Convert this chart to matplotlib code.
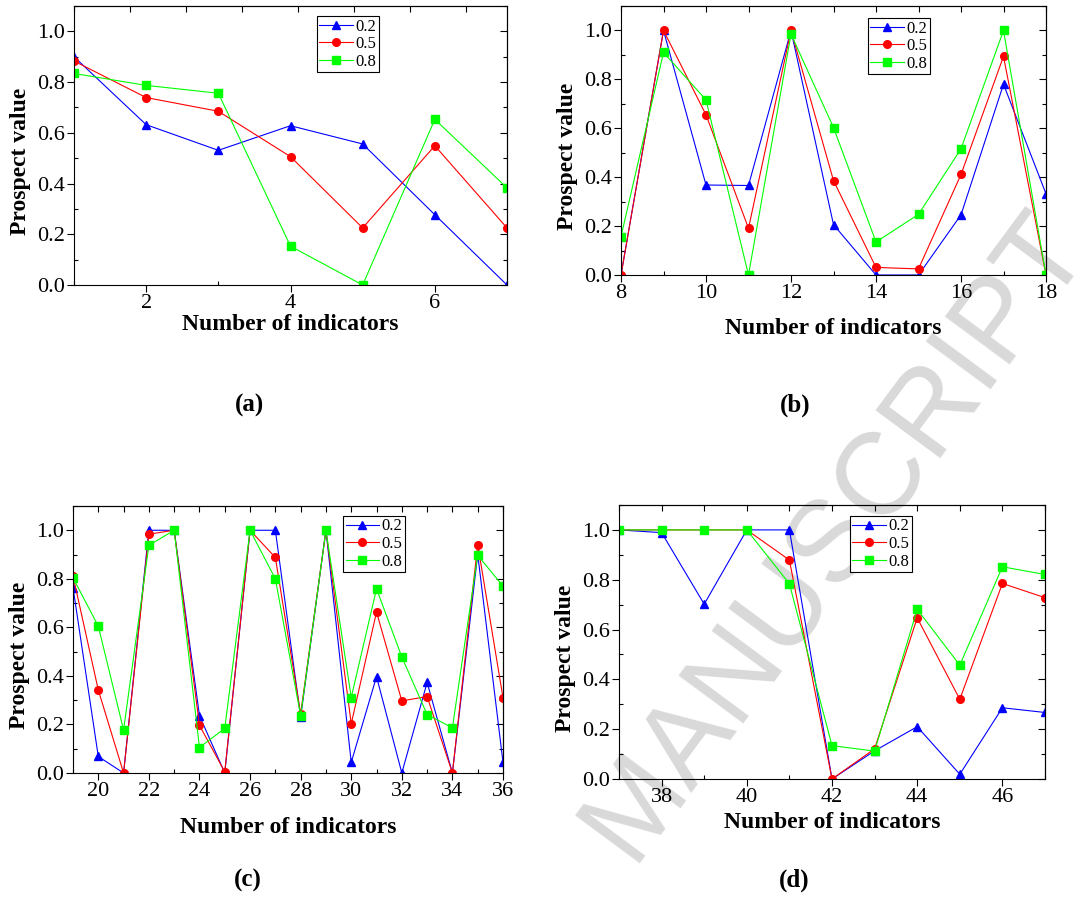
import numpy as np
import matplotlib
matplotlib.use("Agg")
import matplotlib.pyplot as plt
from matplotlib.ticker import MultipleLocator, FormatStrFormatter

plt.rcParams['font.family'] = ['Liberation Serif', 'DejaVu Serif']

series_labels = ["0.2", "0.5", "0.8"]

# (a)
x_a = [1, 2, 3, 4, 5, 6, 7]
a_02 = [0.90, 0.632, 0.531, 0.628, 0.556, 0.277, 0.0]
a_05 = [0.883, 0.739, 0.685, 0.506, 0.225, 0.549, 0.225]
a_08 = [0.834, 0.787, 0.756, 0.153, 0.0, 0.653, 0.383]

# (b)
x_b = [8, 9, 10, 11, 12, 13, 14, 15, 16, 17, 18]
b_02 = [0.0, 1.0, 0.368, 0.366, 1.0, 0.206, 0.0, 0.0, 0.246, 0.780, 0.332]
b_05 = [0.0, 1.0, 0.655, 0.191, 1.0, 0.386, 0.031, 0.025, 0.411, 0.894, 0.0]
b_08 = [0.157, 0.910, 0.716, 0.0, 0.985, 0.603, 0.135, 0.248, 0.516, 1.0, 0.0]

# (c)
x_c = [19, 20, 21, 22, 23, 24, 25, 26, 27, 28, 29, 30, 31, 32, 33, 34, 35, 36]
c_02 = [0.764, 0.068, 0.0, 1.0, 1.0, 0.236, 0.0, 1.0, 1.0, 0.230, 1.0, 0.044,
        0.397, 0.0, 0.373, 0.0, 0.901, 0.044]
c_05 = [0.812, 0.342, 0.0, 0.984, 1.0, 0.196, 0.005, 1.0, 0.888, 0.244, 1.0, 0.203,
        0.663, 0.297, 0.315, 0.0, 0.941, 0.310]
c_08 = [0.804, 0.605, 0.177, 0.938, 1.0, 0.105, 0.184, 1.0, 0.800, 0.236, 1.0, 0.311,
        0.759, 0.478, 0.241, 0.186, 0.897, 0.770]

# (d)
x_d = [37, 38, 39, 40, 41, 42, 43, 44, 45, 46, 47]
d_02 = [1.0, 0.989, 0.702, 1.0, 1.0, 0.0, 0.113, 0.210, 0.019, 0.286, 0.267]
d_05 = [1.0, 1.0, 1.0, 1.0, 0.879, 0.0, 0.121, 0.647, 0.320, 0.785, 0.728]
d_08 = [1.0, 1.0, 1.0, 1.0, 0.784, 0.134, 0.112, 0.681, 0.457, 0.852, 0.821]

colors = ["#0000ff", "#ff0000", "#00ff00"]
markers = ["^", "o", "s"]

W, H = 1088, 922
fig = plt.figure(figsize=(W / 100, H / 100), dpi=100)

# name, x, series, axes box in pixels (left, top, right, bottom), legend anchor,
# xlabel y (axes coords), top tick step, panel label position (pixels)
panels = [
    ("(a)", x_a, [a_02, a_05, a_08], (74, 6, 507, 285), (0.561, 0.964), -0.105, 0.776, (249, 405)),
    ("(b)", x_b, [b_02, b_05, b_08], (621, 6, 1046, 275), (0.581, 0.955), -0.158, 1, (795, 405)),
    ("(c)", x_c, [c_02, c_05, c_08], (73, 506, 503, 773), (0.628, 0.963), -0.163, 1, (248, 880)),
    ("(d)", x_d, [d_02, d_05, d_08], (619, 505, 1045, 779), (0.542, 0.960), -0.122, 1, (794, 880)),
]

for name, xs, ys, box, leg_xy, xl_y, top_step, lab_xy in panels:
    l, t, r, b = box
    ax = fig.add_axes([l / W, 1 - b / H, (r - l) / W, (b - t) / H])
    ax.patch.set_alpha(0)
    for y, c, m, lab in zip(ys, colors, markers, series_labels):
        ax.plot(xs, y, color=c, marker=m, ms=5.5, lw=0.8, label=lab)
    ax.set_xlim(xs[0], xs[-1])
    ax.set_ylim(0, 1.1)
    ax.xaxis.set_major_locator(MultipleLocator(2))
    ax.xaxis.set_minor_locator(MultipleLocator(1))
    ax.yaxis.set_major_locator(MultipleLocator(0.2))
    ax.yaxis.set_minor_locator(MultipleLocator(0.1))
    ax.yaxis.set_major_formatter(FormatStrFormatter('%.1f'))
    ax.tick_params(which='major', direction='out', length=5, width=0.8, labelsize=16, pad=1.5)
    ax.tick_params(which='minor', direction='in', length=3, width=0.8)
    for s in ax.spines.values():
        s.set_linewidth(0.8)

    top = ax.secondary_xaxis('top')
    top.set_xticks(np.arange(xs[0], xs[-1] + 1e-6, top_step))
    top.tick_params(direction='in', length=4, width=0.8, labeltop=False)
    right = ax.secondary_yaxis('right')
    right.yaxis.set_major_locator(MultipleLocator(0.2))
    right.yaxis.set_minor_locator(MultipleLocator(0.1))
    right.tick_params(which='major', direction='in', length=5, width=0.8, labelright=False)
    right.tick_params(which='minor', direction='in', length=3, width=0.8)

    ax.set_ylabel("Prospect value", fontsize=17, fontweight='bold')
    ax.yaxis.set_label_coords(-0.1, 0.5 - 16 / (b - t))
    ax.set_xlabel("Number of indicators", fontsize=17, fontweight='bold')
    ax.xaxis.set_label_coords(0.5, xl_y)
    ax.xaxis.label.set_va('top')

    leg = ax.legend(loc='upper left', bbox_to_anchor=leg_xy, fontsize=12, fancybox=False,
                    edgecolor='black', framealpha=1, handlelength=2.0, handletextpad=0.15,
                    borderpad=0.15, labelspacing=0.1, borderaxespad=0)
    leg.get_frame().set_linewidth(0.8)

    fig.text(lab_xy[0] / W, 1 - lab_xy[1] / H, name, fontsize=18, fontweight='bold',
             ha='center', va='center')

# watermark
fig.text(835 / W, 1 - 535 / H, "MANUSCRIPT", rotation=53.5, rotation_mode='anchor',
         fontsize=84, color='#d9d9d9', family='Liberation Sans', ha='center', va='center',
         zorder=-10)

fig.savefig("out.png", dpi=100)
